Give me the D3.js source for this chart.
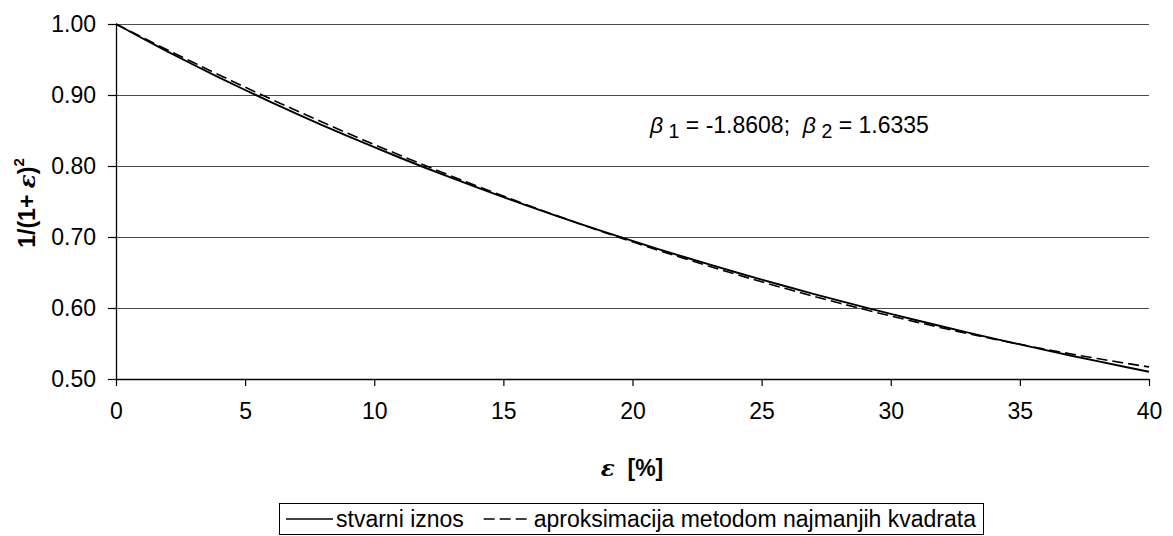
<!DOCTYPE html>
<html><head><meta charset="utf-8">
<script src="https://cdn.jsdelivr.net/npm/d3@7"></script>
<style>
html,body{margin:0;padding:0;background:#fff;}
svg{display:block;font-family:Arial,"Liberation Sans",sans-serif;}
text{white-space:pre;}
</style></head>
<body><svg id="c" width="1173" height="536"></svg>
<script>
const eps = d3.range(0, 41);
const actual = [1.0000,0.98030,0.96117,0.94260,0.92456,0.90703,0.88999,0.87344,0.85734,0.84168,
0.82645,0.81162,0.79719,0.78315,0.76947,0.75614,0.74316,0.73051,0.71818,0.70616,
0.69444,0.68301,0.67186,0.66098,0.65036,0.64000,0.62988,0.62000,0.61035,0.60093,
0.59172,0.58272,0.57392,0.56533,0.55692,0.54870,0.54066,0.53280,0.52510,0.51757,0.51020];
const approx = [1.0000,0.98156,0.96344,0.94565,0.92818,0.91104,0.89423,0.87775,0.86159,0.84576,
0.83026,0.81508,0.80023,0.78570,0.77150,0.75763,0.74409,0.73087,0.71798,0.70542,
0.69318,0.68127,0.66969,0.65843,0.64750,0.63689,0.62662,0.61667,0.60704,0.59775,
0.58878,0.58013,0.57181,0.56382,0.55616,0.54882,0.54181,0.53513,0.52877,0.52274,0.51704];
const xTicks = [0,5,10,15,20,25,30,35,40];
const yTicks = [0.5,0.6,0.7,0.8,0.9,1.0];
const seriesNames = ["stvarni iznos","aproksimacija metodom najmanjih kvadrata"];

const svg = d3.select("#c");
const L=116, R=1149, T=24, B=379;
const x = d3.scaleLinear().domain([0,40]).range([L,R]);
const y = d3.scaleLinear().domain([0.5,1.0]).range([B,T]);
const FS = 23;

// gridlines
svg.append("g").selectAll("line").data(yTicks.filter(v=>v>0.5)).join("line")
  .attr("x1",L).attr("x2",R).attr("y1",d=>y(d)).attr("y2",d=>y(d))
  .attr("stroke","#4a4a4a").attr("stroke-width",1).attr("shape-rendering","crispEdges");

// axes
const xa = svg.append("g").attr("transform",`translate(0,${B})`)
  .call(d3.axisBottom(x).tickValues(xTicks).tickSize(7).tickPadding(17).tickSizeOuter(0).tickFormat(d3.format("d")));
const ya = svg.append("g").attr("transform",`translate(${L},0)`)
  .call(d3.axisLeft(y).tickValues(yTicks).tickSize(8).tickPadding(12).tickSizeOuter(0).tickFormat(d3.format(".2f")));
[xa,ya].forEach(a=>{
  a.select(".domain").attr("stroke","#000").attr("stroke-width",1.3);
  a.selectAll(".tick line").attr("stroke","#000").attr("stroke-width",1.2);
  a.selectAll("text").attr("font-size",FS).attr("fill","#000").attr("font-family","Arial,'Liberation Sans',sans-serif");
});

// lines
const line = vals => d3.line().x((d,i)=>x(eps[i])).y(d=>y(d)).curve(d3.curveMonotoneX)(vals);
svg.append("path").attr("d",line(approx)).attr("fill","none").attr("stroke","#000")
  .attr("stroke-width",1.6).attr("stroke-dasharray","11,5");
svg.append("path").attr("d",line(actual)).attr("fill","none").attr("stroke","#000")
  .attr("stroke-width",1.9);

// annotation
const ann = svg.append("text").attr("x",650).attr("y",133).attr("font-size",FS).attr("fill","#000");
ann.append("tspan").attr("font-style","italic").text("β");
ann.append("tspan").attr("dy",5).attr("font-size",FS*0.85).text(" 1");
ann.append("tspan").attr("dy",-5).text(" = -1.8608;  ");
ann.append("tspan").attr("font-style","italic").text("β");
ann.append("tspan").attr("dy",5).attr("font-size",FS*0.85).text(" 2");
ann.append("tspan").attr("dy",-5).text(" = 1.6335");

// y title
const yt = svg.append("text").attr("transform","translate(35,203) rotate(-90)")
  .attr("text-anchor","middle").attr("font-weight","bold").attr("font-size",FS).attr("fill","#000");
yt.append("tspan").text("1/(1+ ");
yt.append("tspan").attr("font-style","italic").attr("font-family","'DejaVu Serif',serif").text("ε");
yt.append("tspan").text(")");
yt.append("tspan").attr("dy",-11).attr("font-size",FS*0.65).text("2");

// x title
const xt = svg.append("text").attr("x",632).attr("y",476).attr("text-anchor","middle")
  .attr("font-weight","bold").attr("font-size",FS).attr("fill","#000");
xt.append("tspan").attr("font-style","italic").attr("font-family","'DejaVu Serif',serif").text("ε");
xt.append("tspan").text("  [%]");

// legend
const lg = svg.append("g");
lg.append("rect").attr("x",279.5).attr("y",503.5).attr("width",704).attr("height",31)
  .attr("fill","#fff").attr("stroke","#000").attr("stroke-width",1);
const ly = 519;
lg.append("line").attr("x1",286).attr("x2",333).attr("y1",ly).attr("y2",ly).attr("stroke","#000").attr("stroke-width",1.6);
lg.append("text").attr("x",336).attr("y",ly+8).attr("font-size",FS).text(seriesNames[0]);
const t2 = lg.append("text").attr("x",976).attr("y",ly+8).attr("text-anchor","end").attr("font-size",FS).text(seriesNames[1]);
const w2 = t2.node().getComputedTextLength();
const s2 = 976 - w2 - 3;
lg.append("line").attr("x1",s2-47).attr("x2",s2).attr("y1",ly).attr("y2",ly).attr("stroke","#000").attr("stroke-width",1.6).attr("stroke-dasharray","11,5");
</script></body></html>
